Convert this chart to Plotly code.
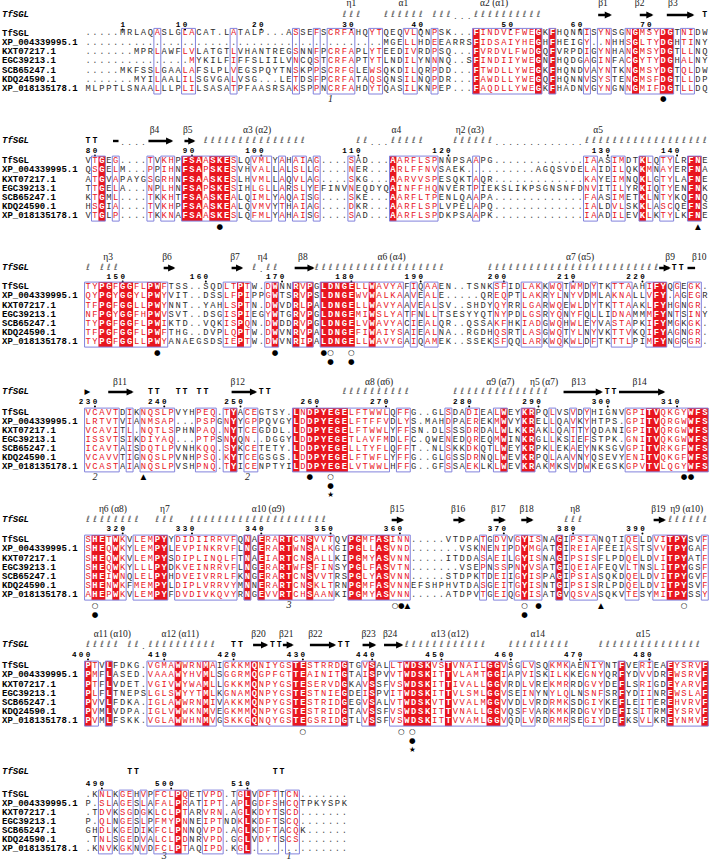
import plotly.graph_objects as go

# ---------------- data ----------------
NAMES = ["TfSGL", "XP_004339995.1", "KXT07217.1", "EGC39213.1",
         "SCB65247.1", "KDQ24590.1", "XP_018135178.1"]
SS_NAME = "TfSGL"

B1_SEQS = [
    "." * 5 + "MRLAQASLGLACAT" + "." + "LATALP" + "..." + "ASSEFSCRFAH" + "QYTQEQVLQNPSK" + "..." + "FINDVLFWEGKFHQNNISYNSGNGMSYDGTNIDW",
    "." * 43 + "MGELLHDEEARRS" + "FIDSAIYHEGHFHEIGY..NHHSGLTYDGHTINY",
    "." * 7 + "MPRLAWFLVLATGTLVHANTREGSNNFP" + "CRFAPLYTEEDIVRDPSQ" + "..." + "FVRDVLFWDGQFVRPDIGYNHANGMSYDGTLLNQ",
    "." * 15 + "MYKILFIFFSLIILVNCQST" + "CRFAPTYTLNDILYNNNQ" + "..S" + "FINDIIYWEGNFHQDGAGINFACGYTYDGHALNY",
    "." * 5 + "MKFSSLGAALAFSLPLVEGSPQYTNSKPPS" + "CRFGLEWSQKDILQRPDD" + "..." + "FTWDLLYWEGKFHQNDVAYNTKNGMSYDGTQLDW",
    "." * 7 + "MYILAALILSGVGALVSG" + "..." + "LETDSFP" + "CRFATAQSQNSILNQPDR" + "..." + "FAWDLLYWEGQFHQNNVSYSTENGMSFDGTLLDP",
    "MLPPTLSNAALLLPLILSASATPFAASRSAKSPPN" + "CRFAHDYTQASILKNPEP" + "..." + "FAQDLLYWEGKFHADNVGYNGNNGMIFDGTLLDQ",
]
B2_SEQS = [
    "VTGEG....TVKHPFSAASKESLQVMLYAHAIAG....SAD...AARFLSPNNPSAAPG" + "." * 13 + "IAASIMDTKLQTYLRFNE",
    "QSGELM...PPIHNFSAPSKESVHVALLALSLLG....NER...ARLFFNVSAEK" + "." * 10 + "AGQSVDELAIDILQKKMNAYERFNA",
    "ATGVAPAYGSGRHNFSAASKESLHVMLLAQVLAG....SKG...AARVVSPESQKTAQR" + "." * 13 + "KAYEIMNQKLGTYLAFNE",
    "TTGELA...NPLHNFSAPSKESIHLGLLARSLYEFINVNEQDYQAINFFHQNVERTPIEKSLIKPSGNSNFDNVITILYRKIQTYENFNK",
    "KTGML....TKKHTFSAASKEALQIMLYAQAISG....SKE...AARFLTPENLQAAPA" + "." * 13 + "FAASIMETKLNTYKQFNQ",
    "HSGIA....TVKHPFSAASKEALQVMVYTHAIAG....DKR...AARFLSPLVPELAPQ" + "." * 13 + "IALDVLSKKLASCQEFNS",
    "VTGLP....TKKNAFSAASKESLQFMLYAHAISG....SAD...AARFLSPDKPSAAPK" + "." * 13 + "IAADILEVKLKTYLKFNE",
]
B3_SEQS = [
    "TYPGFGGFLPWFTSS..SQDLTPTW.DWNNRVPGLDNGELLWAVYAFIQAAEN..TSNKSFIDLAKKWQTWMDYTKTTAAHIFYQGEGK.",
    "QYPGYGGYLPWYVIT..DSSLFPIPPGWTSRVPSLDNGEWVWALKAAVEALE.....QREQPTLAKRYLNYVDMLAKNALLVFY.AGEGR",
    "TFPGFGGLLPWYNNT..YAHLSPTN.DWVDRLPALDNGELLWAVYAAVEALSV..SHDYQYRRLGARWQEWLDYTKTTAAKLFYHGNGR.",
    "NFPGYGGFHPWVSVT..DSGISPIEGYWTGRVPGLDNGEMIWSLYATFNLLTSESYYQTNYPDLGSRYQNYFQLLIDNAMMMFYNTSINY",
    "TYPGFGGFLPWIKTD..VQKISPQN.DWDDRVPGLDNGELVWAVYACIEALQR..QSSAKFHKIADGWQHWLEYVASTAPKIFYMGKGK.",
    "TFPGFGGFLPWFTHG..DVPLQPTW.DWVNRVPALDNGEFIWAIYSAIEALNA..RGDHQSRTLASGWQTYLNYVKTTVKQIFYAGNGR.",
    "TYPGFGGLLPWYANAEGSDSIEPTW.DWVNRIPALDNGELLWAVYGAIQAMEK..SSEKSFQQLARKWQKWLDFTKTTLPIMFYNGGGR.",
]
B4_SEQS = [
    "VCAVTDIKNQSLPVYHPEQ.TYACEGTSY.LNDPYEGELFTWWLQFFG..GLSDADIEALWEYKRPQLVSVDYHIGNVGPITVQKGYWFS",
    "LRTVTVIANMSAP...PSPGNYYGPPQVGYLDDPYEGELFTFFVDLYS.MAHDPAEREKMWVYKRELLQAVKYHTPS.GPITVQRGWWFS",
    "VCAVITL.NQTLSPHNPAQ.NYTCEGDDL.LDDPYEGELFTWWLYFFSN.DLSSSDRDALWLKKRAKLQATTYQDANIGPITVQRGWWFS",
    "ISSVTSIKDIYAQ...PTPSNYQN..DGGYLDDPYEGETLAVFMDLFC.QWENEDQREQMWINKRGLLKSIEFSTPK.GNITVQKGWWFS",
    "ICAVTAISDQTLPVNHKQQ.SYKCETETY.LDDPYEGELLTYFLQFFT..NLSKKDKQTLWEYKRPKLEKAEYNKSGVGPITVRKGFWFS",
    "VCAVVTIGNQSLPVNHPSQ.KYTCEGSGS.LDDPYEGELFTWFLYFFG..GLGSSDRNQLWEVKRPQLAAVNYQSEVYENITVQKGFWFS",
    "VCASTAIANQSLPVSHPNQ.TYICENPTYILDDPYEGELVTWWLHFFG..GFSSAEKLKLWEVKRAKMKSVDWKEGSKGPVTVLQGYWFS",
]
B5_SEQS = [
    "SHETWKVLEMPYYDIDIIRRVFQNAERARTCNSVVTQVPGMFASINN.....VTDPATGDVVGYISNAGIPSIANQTIQELDVITPYSVF",
    "SHEQWKYLEMPYLEVPINKRVFLNGERARTWNSALKGIPGLLASVND.......VSKNENIPDYMGATGIREIAFEEIASTSVVTPYGAF",
    "SHEQWKVLEMPYSDIPLINQLFTNAEIARTCNSALLKIPGMYASVNN.....ITDDASAEILGYISNAGIPSISFLPDQELDVITPYATF",
    "SHEQWKYLLLPYDKVEINRRVFLNGERARTWFSFINSYPGLFASVTN.......VSEPNSSPNYVSATGIQEIAFEQVLTNSLITPYGSF",
    "SHEIWNQLELPYHDVEIVRRLFKNGERARTCNSVVTRSPGLYASVNN.....STDPKTDEIIGYISPAGIPSIASQKDQELDVITPYGVF",
    "SHENWKFMEMPYLDIPLVRRVYMNNERARTCNSKLTRNPGMFASVNNEFSHPHVTDASGEITGYISNTGIPSISRLPDQELDVITPYSVF",
    "AHEPWKVLEMPYFDVDIVKQVYRNGEVVRTCHSAANKIPGMYASVNN.....ATDPVTGEIQGYISATGVQSVASQKVTESYMITPYSSY",
]
B6_SEQS = [
    "PTVLFDKG.VGMAWWRNMAIGKKMQNIYGSTESTRRDGTGVSALLTWDSKVSTVNAILGGVSGLVSQKMKAENIYNTFVERIEAEYSRVF",
    "PMFLASED.VAAAWYHVMLSGGRMQGPFGTTEAINITGTAISPVVTWDSKITTVLAMTGGIAPVISKILKKEGNYQRFYDVVDREWSRVF",
    "PTFLVDET.VGIVWYWAMLLGKKMQNPYGSTESERVDGKAVSSFVSWDSKITTIVALLGGVRDLVREKMRRDGVYDEFLSRIGDEYARVF",
    "PLFLTNEPSLGLSWYYTMLKGNAMQNPYGSTESTNIEGDEISPVITWDSKITTVLSMLGGVSEINYNYLQLNSNFSRFYDIINREWSLAF",
    "PVVLFDKA.IGLAWWRNMIVAKKMQNPYGSTESTRIDGEGVSALVTWDSKVTTVVALMGGVVDLVRDRMKSDGIYKEFLEITEREHVRVF",
    "PVMLVDPA.IGLVWWKNMVEGKMMQNPYGSTESTRIDGTAVSSFVSWDSKITTVNALLGGVQSFVARKMKRDGVYDEFISITRMEYSRVF",
    "PVMLFSKK.VGLAWWHNMVGSKKGQNQYGSTEGSRIDGTLVSSFVSWDSKITTVVAMLGGVQDLVRDRMRSEGIYDEFKSVLKREYNMVF",
]
B7_SEQS = [
    ".KNLKGEHVPFCLPQETVPD.TGLVDFTTCN.......",
    "P.SLAGESLAFALPRATIPT.APLGDFSHCQTPKYSPK",
    ".TDVKSGDGKLCLPTARVRN.AGLKDYTSCD.......",
    "P.QLNGESLPFMYPNNEIPTNDKLKDFTSCQ.......",
    "GHDLKGEDIKFCLPNNQVPD.AGLKDFTACQK......",
    ".TNLSGEDVALCLPDNRVPD.GGLVDYTSCS.......",
    ".KNVKGKNVDFCLPTAQIPD.KGL..............",
]

# column conservation class: F = strictly identical (red box), S = similar (red letters, framed)
B1_STYLE = "".join(["." * 10, "S", "...", "SS", ".....", "S", "." * 8, "S", "..", "S", ".", "SSSS", "..", "SS", "...", "SS", "..", "S", ".....", "F", "S" * 8, "F", ".", "F", "....", "S", ".", "SS", "..", "S", "F", "SSS", "FF", ".", "SS", ".."])
B2_STYLE = "".join([".", "S", "F", ".", "S", "....", "S", ".", "SS", ".", "FFF", "S", "FFF", "S", "..", "SSS", ".", "S", ".", "SS", ".", "S", "....", "S", ".....", "F", "SSSSSS", ".....", "S", "." * 15, "SS", "..", "SS", "..", "F", "S", ".", "SS", "..", "FF", "."])
B3_STYLE = "".join(["SS", "FF", "S", "FF", "SS", "FF", "S", "." * 8, "SS", "F", "S", "..", "S", "F", "..", "F", "S", "F", ".", "FFFFF", "SS", "F", "SSSS", ".", "S", ".", "SS", "." * 8, "SS", "..", "SSS", ".", "SS", ".", "SS", ".", "S", "..", "SSS", "..", "S", "FF", ".", "S", ".", "SS", "."])
B4_STYLE = "".join(["SSSSS", ".", "S", ".", "SSSSS", "...", "SSS", ".", "S", "F", ".", "SS", ".....", "F", "S", "FFFFFF", "SSSSSS", ".", "SS", ".....", "S", "..", "SS", "..", "S", "F", "..", "FF", "..", "S", "..", "S", ".", "S", ".....", "SSS", "FF", "SSSS", "FFF"])
B5_STYLE = "".join(["S", "FF", "S", "F", "S", ".", "SSS", "FF", ".", "S" * 9, ".", "F", ".", "F", "SS", "FF", "SS", "F", "SSS", "..", "FF", "SS", "FF", "SSS", "." * 10, "S", ".", "SS", ".", "S", "F", "SS", "..", "F", ".", "SSSS", "....", "SS", "..", "SS", "FFF", "..", "S"])
B6_STYLE = "".join(["F", "S", ".", "F", ".....", "SSSS", "F", "SSS", "F", "S", ".", "SSSS", "F", "SSSSS", "FF", "SSSSS", "F", "..", "S", "F", "..", "SS", "FFFF", "SS", "F", "SSSSS", "FF", "S", "..", "SS", "..", "SSS", "..", "SSS", "..", "F", "..", "SS", "..", "F", "SSSS", "F"])
B7_STYLE = "".join(["..", "SS", ".", "SS", ".", "S", ".", "SSS", "F", "S", "..", "SSS", "..", "S", "F", ".", "SSS", ".", "SS", "." * 7])

# secondary structure of TfSGL (column positions)
SS1 = [("lab", 39, "η1"), ("h", 38, 40), ("lab", 46.5, "α1"), ("h", 44, 49), ("h", 51, 53), ("d", 54, 56),
       ("lab", 59.6, "α2 (α1)"), ("h", 57, 66), ("lab", 75.3, "β1"), ("a", 74.4, 76.6),
       ("lab", 80.6, "β2"), ("a", 80.4, 82.6), ("lab", 85.4, "β3"), ("a", 84.3, 88.5), ("T", 90)]
SS2 = [("T", 1), ("T", 2), ("l", 4.6, 5.4), ("d", 6, 9), ("lab", 10.6, "β4"), ("a", 9.5, 13.3),
       ("lab", 15.4, "β5"), ("a", 14.7, 16.5), ("lab", 25.4, "α3 (α2)"), ("h", 18, 32), ("h", 40, 41), ("d", 42, 44),
       ("lab", 45.5, "α4"), ("h", 45, 49), ("lab", 56.1, "η2 (α3)"), ("h", 54, 59), ("d", 60, 72),
       ("lab", 74.6, "α5"), ("h", 73, 90)]
SS3 = [("h", 1, 1), ("lab", 3.9, "η3"), ("h", 3, 5), ("lab", 12.4, "β6"), ("a", 11.7, 13.6),
       ("lab", 22.2, "β7"), ("a", 21.5, 23.4), ("lab", 26.2, "η4"), ("h", 25, 25), ("d", 26, 26), ("h", 27, 28),
       ("lab", 32, "β8"), ("a", 30.6, 33.7), ("lab", 44.8, "α6 (α4)"), ("h", 34, 52),
       ("lab", 72, "α7 (α5)"), ("h", 59, 83), ("lab", 85, "β9"), ("a", 83.2, 85.1),
       ("T", 85.6), ("T", 86.6), ("lab", 89.2, "β10"), ("l", 87.5, 88.6)]
SS4 = [("tri", 0.9), ("lab", 5.6, "β11"), ("a", 3.7, 7.6), ("T", 10), ("T", 11), ("T", 14), ("T", 15),
       ("T", 17), ("T", 18), ("lab", 22.6, "β12"), ("a", 21.5, 25.4), ("T", 26), ("T", 27),
       ("lab", 43, "α8 (α6)"), ("h", 38, 47), ("lab", 60.5, "α9 (α7)"), ("h", 54, 67),
       ("lab", 66.8, "η5 (α7)"), ("lab", 71.8, "β13"), ("a", 69.4, 75.3), ("T", 75.9), ("T", 76.9),
       ("lab", 80.6, "β14"), ("a", 77.4, 84.3)]
SS5 = [("lab", 4.6, "η6 (α8)"), ("h", 1, 8), ("lab", 12.1, "η7"), ("h", 11, 13),
       ("lab", 27, "α10 (α9)"), ("h", 16, 35), ("lab", 45.6, "β15"), ("a", 44.6, 46.6),
       ("lab", 54.4, "β16"), ("a", 53.5, 55.5), ("lab", 60.2, "β17"), ("a", 59.3, 61.3),
       ("lab", 64.3, "β18"), ("a", 63.3, 65.3), ("lab", 71.3, "η8"), ("h", 70, 72),
       ("lab", 83.3, "β19"), ("a", 82.4, 84.4), ("lab", 87.4, "η9 (α10)"), ("h", 85, 90)]
SS6 = [("lab", 4.5, "α11 (α10)"), ("h", 1, 5), ("h", 7, 8), ("d", 9, 9), ("lab", 14.3, "α12 (α11)"), ("h", 10, 19),
       ("T", 22), ("T", 23), ("lab", 25.6, "β20"), ("a", 24.6, 27.0), ("T", 27.6), ("T", 28.6),
       ("lab", 29.6, "β21"), ("a", 28.9, 30.7), ("lab", 33.8, "β22"), ("a", 32.8, 36.8), ("T", 37.4), ("T", 38.4),
       ("lab", 41.5, "β23"), ("a", 40.4, 42.6), ("lab", 44.6, "β24"), ("a", 43.5, 46.5),
       ("lab", 53.2, "α13 (α12)"), ("h", 47, 58), ("lab", 65.9, "α14"), ("h", 62, 70),
       ("lab", 81.1, "α15"), ("h", 75, 89)]
SS7 = [("T", 7), ("T", 8), ("T", 28), ("T", 29)]

# markers below the blocks: (block, column, level, glyph)
MARKS = [
    (0, 36, 0, "1"), (0, 84, 0, "●"),
    (1, 20, 0, "●"), (1, 89, 0, "▲"),
    (2, 11, 0, "●"), (2, 28, 0, "●"), (2, 35, 0, "●"), (2, 36, 0, "○"), (2, 39, 0, "○"), (2, 36, 1, "●"), (2, 39, 1, "●"),
    (3, 2, 0, "2"), (3, 9, 0, "▲"), (3, 24, 0, "2"), (3, 33, 0, "●"), (3, 36, 0, "○"), (3, 36, 1, "●"), (3, 36, 2, "★"),
    (3, 87, 0, "●"), (3, 88, 0, "●"),
    (4, 2, 0, "○"), (4, 2, 1, "●"), (4, 30, 0, "3"), (4, 45.3, 0, "○"), (4, 46.2, 0, "●"), (4, 47.1, 0, "▲"),
    (4, 64, 0, "○"), (4, 64, 1, "●"), (4, 66, 0, "●"), (4, 75, 0, "▲"), (4, 87, 0, "○"),
    (5, 32, 0, "○"), (5, 46.2, 0, "○"), (5, 47.8, 0, "○"), (5, 47.8, 1, "●"), (5, 47.8, 2, "★"),
    (6, 12, 0, "3"), (6, 30, 0, "1"),
]

SEQS = [B1_SEQS, B2_SEQS, B3_SEQS, B4_SEQS, B5_SEQS, B6_SEQS, B7_SEQS]
STYLES = [B1_STYLE, B2_STYLE, B3_STYLE, B4_STYLE, B5_STYLE, B6_STYLE, B7_STYLE]
SSS = [SS1, SS2, SS3, SS4, SS5, SS6, SS7]

# ---------------- layout (pixel geometry) ----------------
W, H = 713, 861
X0, DX = 81.1, 6.93          # pixel of column 0, pixels per column
ROW0 = [33.3, 161, 287, 413, 540, 666, 795]
PITCH = [9.3, 9.2, 9.2, 9.0, 9.2, 9.2, 9.0]
SS_Y = [15, 141, 268, 392, 520, 645, 772]
LAB_Y = [4, 131, 258, 383, 510, 635, 762]
NUM_Y = [25, 151, 277, 402, 529, 655, 784]
MARK_GAP = [10.5, 10.5, 10.5, 10.5, 10.5, 10.5, 7.5]

RED = "#e8161f"
FRAME = "#8282dc"
INK = "#2e2e2e"
DOTC = "#555555"
MONO = "Liberation Mono"
SERIF = "Liberation Serif"

XMIN = (0 - X0) / DX
XMAX = (W - X0) / DX
NAME_X = (2 - X0) / DX

shapes, annotations = [], []
nx, ny, nt, nc = [], [], [], []      # normal letters
wx, wy, wt = [], [], []              # white letters on red
lx, ly, lt = [], [], []              # sequence names
hx, hy = [], []                      # helix loops
dx_, dy_ = [], []                    # ss dots
tx, ty = [], []                      # TT turns
gx, gy, gt = [], [], []              # ss labels
ux, uy, ut = [], [], []              # numbering digits
kx, ky = [], []                      # numbering ticks
mx, my, mt = [], [], []              # symbol marks
ix, iy, it = [], [], []              # italic digits
ax_, ay_, at_ = [], [], []           # ss row name


def runs(style, pred):
    out, start = [], None
    for i, s in enumerate(style + "."):
        if pred(s) and i < len(style):
            if start is None:
                start = i
        else:
            if start is not None:
                out.append((start + 1, i))
                start = None
    return out


res = 0
for b in range(7):
    seqs, style, ss = SEQS[b], STYLES[b], SSS[b]
    ncol = len(seqs[0])
    style = style.ljust(ncol, ".")[:ncol]
    top = ROW0[b] - 4.9
    bot = ROW0[b] + 6 * PITCH[b] + 4.9
    for c1, c2 in runs(style, lambda s: s == "F"):
        shapes.append(dict(type="rect", xref="x", yref="y", x0=c1 - 0.5, x1=c2 + 0.5, y0=top, y1=bot,
                           fillcolor=RED, line=dict(width=0), layer="below"))
    for c1, c2 in runs(style, lambda s: s != "."):
        shapes.append(dict(type="rect", xref="x", yref="y", x0=c1 - 0.5, x1=c2 + 0.5, y0=top, y1=bot,
                           fillcolor="rgba(0,0,0,0)", line=dict(width=1, color=FRAME), layer="above"))
    for r, s in enumerate(seqs):
        s = s.ljust(ncol, ".")[:ncol]
        y = ROW0[b] + r * PITCH[b]
        lx.append(NAME_X); ly.append(y); lt.append(NAMES[r])
        for i, ch in enumerate(s):
            c = i + 1
            st = style[i]
            if st == "F" and ch != ".":
                wx.append(c); wy.append(y); wt.append(ch)
            else:
                nx.append(c); ny.append(y); nt.append(ch)
                if ch == ".":
                    nc.append(DOTC)
                elif st in "SF":
                    nc.append(RED)
                else:
                    nc.append(INK)
    # numbering from the TfSGL sequence
    for i, ch in enumerate(seqs[0]):
        if ch == ".":
            continue
        res += 1
        if res == 1 or res % 10 == 0:
            lab = str(res)
            for k, d in enumerate(lab):
                ux.append(i + 1 - (len(lab) - 1 - k)); uy.append(NUM_Y[b]); ut.append(d)
            kx.append(i + 1); ky.append(NUM_Y[b] + 4.6)
    # secondary structure
    ax_.append(NAME_X); ay_.append(SS_Y[b]); at_.append(SS_NAME)
    ys = SS_Y[b]
    for el in ss:
        kind = el[0]
        if kind == "h":
            for c in range(el[1], el[2] + 1):
                hx.append(c); hy.append(ys - 0.5)
        elif kind == "d":
            for c in range(el[1], el[2] + 1):
                dx_.append(c); dy_.append(ys + 1.5)
        elif kind == "T":
            tx.append(el[1]); ty.append(ys)
        elif kind == "lab":
            gx.append(el[1]); gy.append(LAB_Y[b]); gt.append(el[2])
        elif kind == "a":
            annotations.append(dict(x=el[2], y=ys, ax=el[1], ay=ys, xref="x", yref="y", axref="x", ayref="y",
                                    showarrow=True, arrowhead=2, arrowsize=0.6, arrowwidth=2.4,
                                    arrowcolor="black", text="", standoff=0, startstandoff=0))
        elif kind == "l":
            shapes.append(dict(type="line", xref="x", yref="y", x0=el[1], x1=el[2], y0=ys, y1=ys,
                               line=dict(width=2.4, color="black")))
        elif kind == "tri":
            mx.append(el[1]); my.append(ys); mt.append("▶")

for (b, c, lev, g) in MARKS:
    y = ROW0[b] + 6 * PITCH[b] + MARK_GAP[b] + 9 * lev
    if g.isdigit():
        ix.append(c); iy.append(y); it.append(g)
    else:
        mx.append(c); my.append(y); mt.append(g)

fig = go.Figure()


def txt(x, y, t, size, color, family=MONO, weight="normal", style="normal", pos="middle center"):
    fig.add_trace(go.Scatter(x=x, y=y, text=t, mode="text", textposition=pos, cliponaxis=False,
                             hoverinfo="skip",
                             textfont=dict(size=size, color=color, family=family, weight=weight, style=style)))


txt(nx, ny, nt, 8.8, nc)
txt(wx, wy, wt, 8.8, "white", weight="bold")
txt(lx, ly, lt, 9.0, "black", weight="bold", pos="middle right")
txt(ax_, ay_, at_, 9.0, "black", weight="bold", style="italic", pos="middle right")
txt(ux, uy, ut, 7.6, "black", weight="bold")
txt(hx, hy, ["ℓ"] * len(hx), 8.5, "#555555", family="DejaVu Sans")
txt(dx_, dy_, ["."] * len(dx_), 8, "#444444")
txt(tx, ty, ["T"] * len(tx), 8.2, "black", weight="bold")
txt(gx, gy, gt, 9.5, "#222222", family=SERIF)
txt(mx, my, mt, 7.5, "black", family="DejaVu Sans")
txt(ix, iy, it, 10, "#222222", family=SERIF, style="italic")
fig.add_trace(go.Scatter(x=kx, y=ky, mode="markers", hoverinfo="skip", cliponaxis=False,
                         marker=dict(size=2, color="black", symbol="circle")))

fig.update_layout(
    width=W, height=H, margin=dict(l=0, r=0, t=0, b=0),
    paper_bgcolor="white", plot_bgcolor="white", showlegend=False,
    xaxis=dict(range=[XMIN, XMAX], visible=False, fixedrange=True),
    yaxis=dict(range=[H, 0], visible=False, fixedrange=True),
    shapes=shapes, annotations=annotations,
)

fig.write_html("out.html", config={"displayModeBar": False, "staticPlot": True})
with open("out.html", "r", encoding="utf-8") as f:
    html = f.read()
html = html.replace("<head>", "<head><style>html,body{margin:0;padding:0;overflow:hidden;}</style>", 1)
with open("out.html", "w", encoding="utf-8") as f:
    f.write(html)
